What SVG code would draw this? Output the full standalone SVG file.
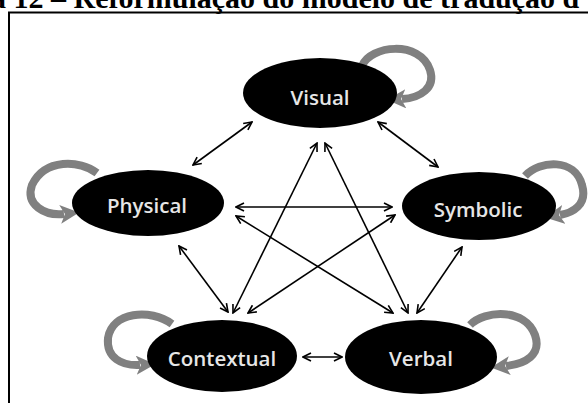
<svg xmlns="http://www.w3.org/2000/svg" width="588" height="403" viewBox="0 0 588 403">
<defs>
<style>
.cap{font-family:"Liberation Serif","Times New Roman",serif;font-size:30px;font-weight:bold;fill:#000}
.frame{stroke:#000;stroke-width:2;fill:none}
.node ellipse{fill:#000}
.node text{font-family:"Open Sans","Noto Sans",sans-serif;font-size:20.5px;font-weight:600;fill:#e6e6e6;text-anchor:middle}
.loop{fill:none;stroke:#808080;stroke-width:8;marker-end:url(#gh)}
.edge line{stroke:#000;stroke-width:1.6;marker-start:url(#bh);marker-end:url(#bh)}
</style>
<marker id="bh" viewBox="0 0 10 10" markerUnits="userSpaceOnUse" markerWidth="10" markerHeight="10" refX="9" refY="5" orient="auto-start-reverse">
<path d="M1,1 L9,5 L1,9" fill="none" stroke="#000" stroke-width="1.6"/>
</marker>
<marker id="gh" viewBox="0 0 10 10" markerUnits="userSpaceOnUse" markerWidth="19" markerHeight="19" refX="2" refY="5" orient="auto">
<path d="M0,0 L10,5 L0,10 L2.5,5 z" fill="#808080"/>
</marker>
</defs>
<rect width="588" height="403" fill="#fff"/>
<text class="cap" x="-9" y="8">a 12 – Reformulação do modelo de tradução d</text>
<path class="frame" d="M9,403 V12.5 H588"/>
<g id="loops">
<path class="loop" d="M362 66 C370 45, 420 40, 430 70 C436 88, 420 98, 402 99"/>
<path class="loop" d="M97 173 C80 160, 45 158, 32 185 C25 205, 45 216, 64 214"/>
<path class="loop" d="M525 176 C540 160, 575 158, 582 185 C588 205, 572 213, 560 215"/>
<path class="loop" d="M172 324 C150 308, 112 312, 108 338 C106 358, 122 366, 140 365"/>
<path class="loop" d="M470 325 C485 310, 525 308, 535 335 C542 355, 525 364, 506 366"/>
</g>
<g id="visual" class="node"><ellipse cx="320" cy="93" rx="77" ry="35"/><text x="320" y="105">Visual</text></g>
<g id="physical" class="node"><ellipse cx="148" cy="203" rx="76" ry="33"/><text x="147" y="213">Physical</text></g>
<g id="symbolic" class="node"><ellipse cx="479" cy="206" rx="77" ry="34"/><text x="478" y="217">Symbolic</text></g>
<g id="contextual" class="node"><ellipse cx="222" cy="356" rx="75" ry="36"/><text x="222" y="366">Contextual</text></g>
<g id="verbal" class="node"><ellipse cx="421" cy="357" rx="76" ry="37"/><text x="421" y="366">Verbal</text></g>
<g id="connectors" class="edge">
<line x1="252" y1="122" x2="193" y2="165"/>
<line x1="378" y1="122" x2="438" y2="167"/>
<line x1="317" y1="143" x2="233" y2="313"/>
<line x1="325" y1="143" x2="408" y2="313"/>
<line x1="236" y1="207" x2="392" y2="207"/>
<line x1="236" y1="216" x2="393" y2="313"/>
<line x1="395" y1="215" x2="248" y2="313"/>
<line x1="179" y1="246" x2="228" y2="312"/>
<line x1="462" y1="247" x2="417" y2="313"/>
<line x1="303" y1="357" x2="342" y2="357"/>
</g>
</svg>
